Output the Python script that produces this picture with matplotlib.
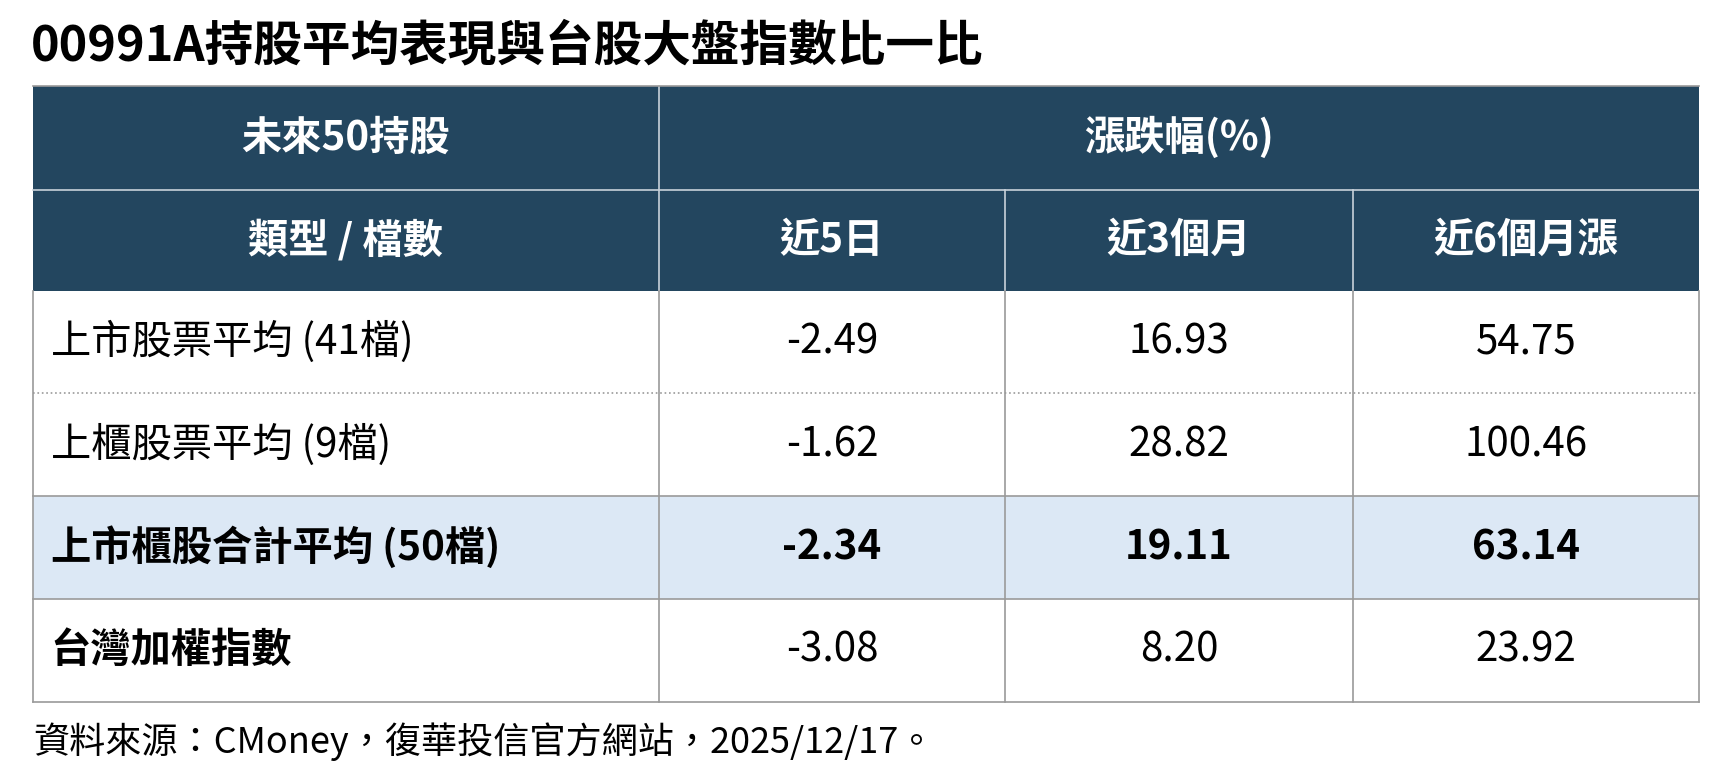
import matplotlib
matplotlib.use("Agg")
import matplotlib.pyplot as plt
from matplotlib.patches import Rectangle

plt.rcParams['font.family'] = ['Noto Sans CJK TC', 'DejaVu Sans']

TITLE = "00991A持股平均表現與台股大盤指數比一比"
HEAD_TOP = ["未來50持股", "漲跌幅(%)"]
HEAD_SUB = ["類型 / 檔數", "近5日", "近3個月", "近6個月漲"]
ROW_LABELS = ["上市股票平均 (41檔)", "上櫃股票平均 (9檔)", "上市櫃股合計平均 (50檔)", "台灣加權指數"]
D5 = ["-2.49", "-1.62", "-2.34", "-3.08"]
M3 = ["16.93", "28.82", "19.11", "8.20"]
M6 = ["54.75", "100.46", "63.14", "23.92"]
BOLD_LABELS = [2, 3]
BOLD_VALUES = [2]
FILL_ROWS = [2]
SOURCE = "資料來源：CMoney，復華投信官方網站，2025/12/17。"

W, H = 1568, 707
NAVY = "#23465f"
GRID = "#9a9a9a"
cols = [30, 597, 911, 1226, 1540]
rows = [78, 172, 264, 356, 450, 543, 636]
FS = 29

fig = plt.figure(figsize=(17.3, 7.8), dpi=100)
ax = fig.add_axes([0, 0, 1, 1])
ax.set_xlim(0, W); ax.set_ylim(H, 0); ax.axis("off")

ax.text(28, 42, TITLE, fontsize=35, fontweight="bold", va="center", ha="left")

# header
ax.add_patch(Rectangle((cols[0], rows[0]), cols[-1]-cols[0], rows[2]-rows[0], color=NAVY, lw=0))
ax.plot([cols[0], cols[-1]], [rows[1]]*2, color="#c8d2da", lw=1.2)
ax.plot([cols[1]]*2, [rows[0], rows[2]], color="#c8d2da", lw=1.2)
for c in cols[2:4]:
    ax.plot([c]*2, [rows[1], rows[2]], color="#c8d2da", lw=1.2)
ax.text((cols[0]+cols[1])/2, (rows[0]+rows[1])/2, HEAD_TOP[0], color="white", fontsize=FS, fontweight="bold", ha="center", va="center")
ax.text((cols[1]+cols[-1])/2, (rows[0]+rows[1])/2, HEAD_TOP[1], color="white", fontsize=FS, fontweight="bold", ha="center", va="center")
for i, t in enumerate(HEAD_SUB):
    ax.text((cols[i]+cols[i+1])/2, (rows[1]+rows[2])/2, t, color="white", fontsize=FS, fontweight="bold", ha="center", va="center")

# body
for r in FILL_ROWS:
    ax.add_patch(Rectangle((cols[0], rows[r+2]), cols[-1]-cols[0], rows[r+3]-rows[r+2], color="#dce8f5", lw=0))
for i, label in enumerate(ROW_LABELS):
    y0, y1 = rows[i+2], rows[i+3]
    yc = (y0+y1)/2
    fwl = "bold" if i in BOLD_LABELS else "normal"
    fwv = "bold" if i in BOLD_VALUES else "normal"
    ax.text(46, yc, label, fontsize=FS, fontweight=fwl, ha="left", va="center")
    for j, vals in enumerate([D5, M3, M6]):
        ax.text((cols[j+1]+cols[j+2])/2, yc, vals[i], fontsize=FS, fontweight=fwv, ha="center", va="center")
    if i < len(ROW_LABELS)-1:
        ls = ":" if i == 0 else "-"
        ax.plot([cols[0], cols[-1]], [y1]*2, color=GRID, lw=1.2, ls=ls)
for c in cols:
    ax.plot([c]*2, [rows[2], rows[-1]], color=GRID, lw=1.2)
ax.plot([cols[0], cols[-1]], [rows[-1]]*2, color=GRID, lw=1.2)
ax.plot([cols[0], cols[-1]], [rows[0]]*2, color=GRID, lw=1.2)

ax.text(30, 672, SOURCE, fontsize=26, ha="left", va="center")

fig.savefig("out.png", dpi=100)
